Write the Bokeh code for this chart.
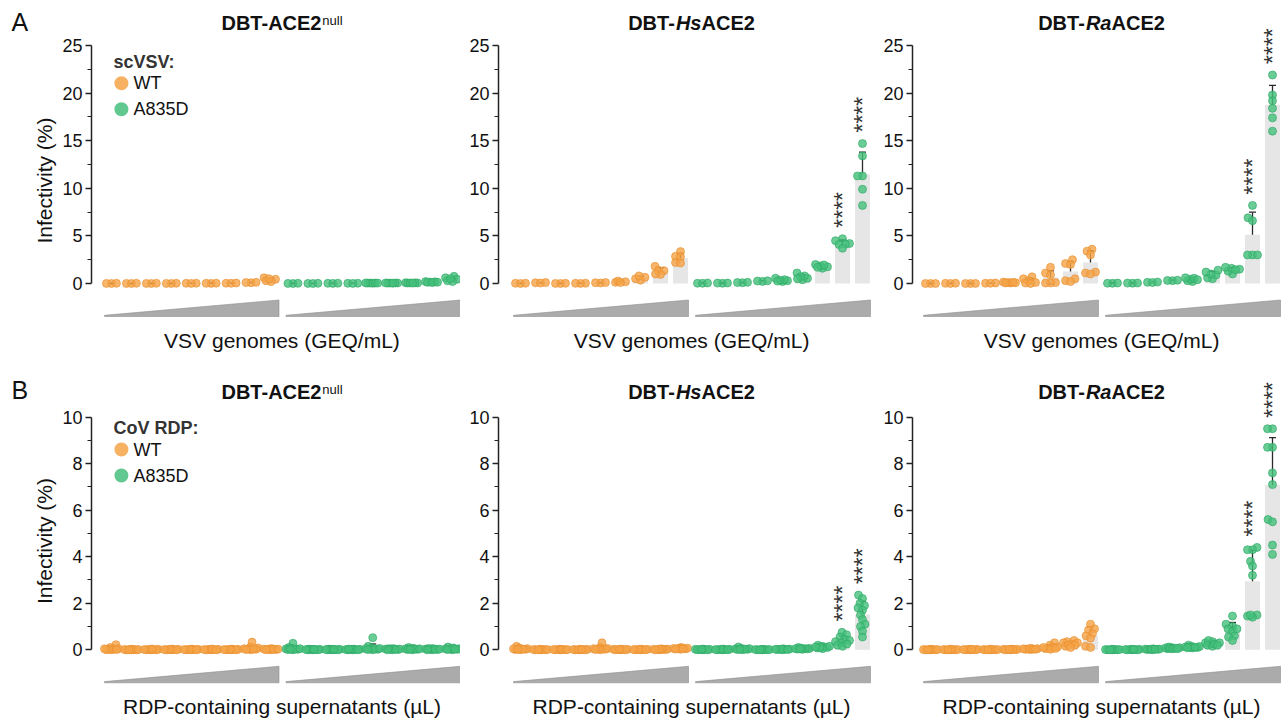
import math
import numpy as np
from bokeh.plotting import figure
from bokeh.layouts import column, row
from bokeh.models import ColumnDataSource, Whisker, TeeHead, Label, FixedTicker, Range1d
from bokeh.core.properties import value
from bokeh.embed import file_html
from bokeh.resources import INLINE

# ------------------------------------------------------------------ data
strains = ["WT", "A835D"]                 # scVSV / CoV RDP spike variants
dose_levels = ["1", "2", "3", "4", "5", "6", "7", "8", "9"]   # increasing input (wedge)
vsv_yticks = [0, 5, 10, 15, 20, 25]
rdp_yticks = [0, 2, 4, 6, 8, 10]

# Panel A : scVSV, infectivity (%)
vsv_null_wt = [
    [0.0, 0.02, 0.01], [0.01, 0.0, 0.02], [0.0, 0.01, 0.02], [0.02, 0.0, 0.01],
    [0.02, 0.03, 0.01], [0.01, 0.03, 0.02], [0.03, 0.02, 0.05], [0.08, 0.12, 0.1],
    [0.6, 0.45, 0.3, 0.2, 0.5],
]
vsv_null_a835d = [
    [0.0, 0.01, 0.02], [0.01, 0.0, 0.02], [0.02, 0.01, 0.03], [0.02, 0.03, 0.01],
    [0.04, 0.05, 0.06, 0.03, 0.05, 0.04], [0.05, 0.04, 0.06, 0.05, 0.03, 0.06],
    [0.06, 0.08, 0.05, 0.07, 0.06, 0.04], [0.15, 0.2, 0.12, 0.18, 0.1, 0.14],
    [0.75, 0.6, 0.45, 0.2, 0.3, 0.5],
]
vsv_hs_wt = [
    [0.02, 0.0, 0.03], [0.08, 0.05, 0.1], [0.0, 0.02, 0.01], [0.03, 0.01, 0.02],
    [0.05, 0.08, 0.1], [0.12, 0.18, 0.25, 0.1], [0.35, 0.5, 0.65, 0.8],
    [1.8, 1.4, 1.35, 0.95, 1.0], [3.35, 2.85, 2.8, 2.2, 2.15],
]
vsv_hs_a835d = [
    [0.03, 0.02, 0.05], [0.02, 0.04, 0.05], [0.08, 0.1, 0.12], [0.22, 0.25, 0.28],
    [0.2, 0.3, 0.4, 0.55, 0.35, 0.25], [0.4, 0.55, 0.8, 1.1, 0.7, 0.5],
    [1.6, 1.75, 1.85, 1.95, 2.0, 1.7], [4.7, 4.5, 4.2, 4.15, 4.1, 3.7],
    [14.7, 13.4, 11.3, 11.3, 9.9, 8.2],
]
vsv_ra_wt = [
    [0.0, 0.0, 0.0], [0.02, 0.0, 0.03], [0.0, 0.01, 0.0], [0.03, 0.05, 0.02],
    [0.05, 0.1, 0.15, 0.08, 0.12, 0.06], [0.7, 0.5, 0.3, 0.1, 0.05, 0.0],
    [1.7, 1.1, 0.9, 0.1, 0.05, 0.05], [2.5, 2.1, 2.0, 0.5, 0.3, 0.2],
    [3.6, 3.4, 3.0, 1.2, 1.1, 1.0],
]
vsv_ra_a835d = [
    [0.02, 0.03, 0.05], [0.03, 0.05, 0.04], [0.12, 0.1, 0.15], [0.3, 0.35, 0.32],
    [0.2, 0.3, 0.45, 0.55, 0.6, 0.4], [0.5, 0.6, 0.9, 1.0, 1.2, 1.4],
    [1.0, 1.3, 1.5, 1.6, 1.7, 1.45], [8.2, 6.9, 6.6, 3.0, 3.0, 3.0],
    [21.9, 19.8, 19.2, 18.4, 17.4, 16.0],
]

# Panel B : CoV RDP, infectivity (%)
rdp_null_wt = [
    [0.22, 0.1, 0.05, 0.03, 0.0, 0.02, 0.0, 0.01, 0.04],
    [0.0, 0.01, 0.02, 0.0, 0.01, 0.0, 0.02, 0.01, 0.0],
    [0.01, 0.0, 0.02, 0.01, 0.0, 0.02, 0.0, 0.01, 0.03],
    [0.0, 0.02, 0.01, 0.0, 0.03, 0.01, 0.0, 0.02, 0.01],
    [0.02, 0.0, 0.01, 0.03, 0.0, 0.01, 0.02, 0.0, 0.01],
    [0.01, 0.02, 0.0, 0.01, 0.02, 0.0, 0.03, 0.01, 0.0],
    [0.0, 0.01, 0.03, 0.02, 0.0, 0.01, 0.0, 0.02, 0.01],
    [0.33, 0.12, 0.08, 0.05, 0.02, 0.0, 0.03, 0.01, 0.04],
    [0.05, 0.03, 0.02, 0.0, 0.01, 0.04, 0.02, 0.0, 0.03],
]
rdp_null_a835d = [
    [0.28, 0.1, 0.06, 0.04, 0.02, 0.0, 0.03, 0.01, 0.05, 0.02],
    [0.02, 0.0, 0.01, 0.03, 0.0, 0.02, 0.01, 0.0, 0.02, 0.01],
    [0.01, 0.02, 0.0, 0.03, 0.01, 0.0, 0.02, 0.01, 0.0, 0.02],
    [0.0, 0.02, 0.01, 0.03, 0.0, 0.01, 0.02, 0.0, 0.01, 0.03],
    [0.52, 0.15, 0.08, 0.05, 0.03, 0.02, 0.0, 0.04, 0.01, 0.06],
    [0.03, 0.05, 0.02, 0.0, 0.04, 0.01, 0.03, 0.02, 0.05, 0.0],
    [0.1, 0.06, 0.04, 0.02, 0.05, 0.0, 0.03, 0.01, 0.02, 0.04],
    [0.05, 0.03, 0.0, 0.02, 0.04, 0.01, 0.06, 0.02, 0.03, 0.0],
    [0.12, 0.08, 0.05, 0.03, 0.0, 0.02, 0.06, 0.04, 0.01, 0.03],
]
rdp_hs_wt = [
    [0.15, 0.08, 0.05, 0.02, 0.0, 0.03, 0.01, 0.04, 0.02],
    [0.0, 0.01, 0.02, 0.0, 0.01, 0.02, 0.0, 0.01, 0.0],
    [0.01, 0.0, 0.02, 0.01, 0.0, 0.01, 0.02, 0.0, 0.01],
    [0.0, 0.02, 0.0, 0.01, 0.02, 0.0, 0.01, 0.0, 0.02],
    [0.3, 0.1, 0.06, 0.04, 0.02, 0.0, 0.03, 0.05, 0.01],
    [0.02, 0.0, 0.01, 0.03, 0.0, 0.02, 0.01, 0.0, 0.02],
    [0.01, 0.02, 0.0, 0.01, 0.03, 0.0, 0.02, 0.01, 0.0],
    [0.03, 0.01, 0.02, 0.0, 0.04, 0.02, 0.01, 0.03, 0.0],
    [0.1, 0.08, 0.06, 0.04, 0.05, 0.02, 0.07, 0.03, 0.05],
]
rdp_hs_a835d = [
    [0.02, 0.0, 0.01, 0.03, 0.0, 0.02, 0.01, 0.0, 0.02],
    [0.01, 0.02, 0.0, 0.01, 0.03, 0.0, 0.02, 0.01, 0.0],
    [0.12, 0.06, 0.04, 0.02, 0.05, 0.0, 0.03, 0.01, 0.02],
    [0.0, 0.01, 0.02, 0.0, 0.01, 0.02, 0.0, 0.01, 0.0],
    [0.03, 0.01, 0.02, 0.04, 0.0, 0.02, 0.03, 0.01, 0.02],
    [0.1, 0.06, 0.04, 0.05, 0.02, 0.07, 0.03, 0.05, 0.04],
    [0.2, 0.15, 0.12, 0.1, 0.08, 0.15, 0.05, 0.1, 0.12],
    [0.75, 0.65, 0.55, 0.45, 0.4, 0.35, 0.3, 0.2, 0.15, 0.25],
    [2.35, 2.2, 2.0, 1.9, 1.8, 1.7, 1.5, 1.3, 1.1, 1.0, 0.8, 0.55],
]
rdp_ra_wt = [
    [0.01, 0.0, 0.02, 0.0, 0.01, 0.02, 0.0, 0.01, 0.0],
    [0.0, 0.01, 0.0, 0.02, 0.01, 0.0, 0.01, 0.02, 0.0],
    [0.02, 0.0, 0.01, 0.0, 0.02, 0.01, 0.0, 0.01, 0.02],
    [0.0, 0.01, 0.02, 0.01, 0.0, 0.0, 0.02, 0.01, 0.0],
    [0.02, 0.01, 0.0, 0.03, 0.01, 0.02, 0.0, 0.01, 0.02],
    [0.05, 0.03, 0.06, 0.02, 0.04, 0.01, 0.05, 0.03, 0.02],
    [0.3, 0.2, 0.12, 0.1, 0.08, 0.05, 0.02, 0.1, 0.06],
    [0.4, 0.35, 0.3, 0.3, 0.25, 0.2, 0.15, 0.2, 0.1],
    [1.1, 0.9, 0.85, 0.7, 0.6, 0.5, 0.15, 0.1],
]
rdp_ra_a835d = [
    [0.01, 0.0, 0.02, 0.0, 0.01, 0.02, 0.0, 0.01, 0.0],
    [0.02, 0.01, 0.0, 0.01, 0.02, 0.0, 0.01, 0.0, 0.02],
    [0.03, 0.02, 0.04, 0.01, 0.03, 0.02, 0.0, 0.03, 0.02],
    [0.05, 0.08, 0.1, 0.12, 0.06, 0.04, 0.09, 0.07, 0.05],
    [0.1, 0.15, 0.2, 0.12, 0.08, 0.1, 0.14, 0.09, 0.11],
    [0.25, 0.3, 0.35, 0.4, 0.2, 0.15, 0.25, 0.3, 0.2],
    [1.45, 1.1, 1.0, 0.9, 0.8, 0.6, 0.55, 0.4, 0.9],
    [4.4, 4.3, 4.3, 3.8, 3.6, 3.2, 1.5, 1.45, 1.4, 1.5],
    [9.5, 9.5, 8.7, 8.7, 7.6, 7.1, 5.6, 5.5, 4.5, 4.1],
]

# significance vs WT (A835D series), per dose level
sig_null = ["", "", "", "", "", "", "", "", ""]
sig_hs = ["", "", "", "", "", "", "", "****", "****"]
sig_ra = ["", "", "", "", "", "", "", "****", "****"]

cell_lines = ["null", "Hs", "Ra"]
panel_letters = ["A", "B"]
legend_titles = ["scVSV:", "CoV RDP:"]
vsv_xlabel = "VSV genomes (GEQ/mL)"
rdp_xlabel = "RDP-containing supernatants (\u00b5L)"
y_label = "Infectivity (%)"

# ------------------------------------------------------------------ style / layout
FONT = "Liberation Sans"
ORANGE_FILL, ORANGE_LINE = "#F5A447", "#E88E2C"
GREEN_FILL, GREEN_LINE = "#45C07C", "#2CA865"
BAR_COLOR = "#E6E6E6"
WEDGE_FILL, WEDGE_LINE = "#ABABAB", "#8E8E8E"
PX_X = 20.0                   # px per x unit
MUT_OFFSET = 9.1
STRIP_W = 30
# per column: left border (px), x start, frame width (px)
COLS = [dict(border=60, x0=-1.0, frame=370),
        dict(border=38, x0=-1.1, frame=378),
        dict(border=36, x0=-0.9, frame=376)]
# per row: page px of y=0, px per unit, frame top/bottom, text centre lines (page px)
ROWS = [
    dict(zero=283.0, ppu=9.52, top=0.0, bottom=360.0, title=22.5, sup=20.0, xlab=340.0,
         hdr=61.0, c1=82.7, c2=108.7, letter=21.5),
    dict(zero=649.3, ppu=23.27, top=360.0, bottom=721.0, title=391.0, sup=388.5,
         xlab=706.0, hdr=427.5, c1=449.0, c2=475.0, letter=389.0),
]

ARIAL_BOLD = {'D': 722, 'B': 722, 'T': 611, '-': 333, 'A': 722, 'C': 722, 'E': 667,
              '2': 556, 'H': 722, 's': 556, 'R': 722, 'a': 556}
ARIAL_REG = {'n': 556, 'u': 556, 'l': 222}


def text_w(s, size, bold):
    table = ARIAL_BOLD if bold else ARIAL_REG
    return sum(table[c] for c in s) * size / 1000.0


def swarm(vals, ppu, D=5.0, maxoff=7.0):
    order = sorted(range(len(vals)), key=lambda i: vals[i])
    cands = sorted([k * 0.5 for k in range(int(-2 * maxoff), int(2 * maxoff) + 1)], key=abs)
    placed, offs = [], [0.0] * len(vals)
    for i in order:
        yp = vals[i] * ppu
        best, bestd = 0.0, -1.0
        for c in cands:
            d = min((math.hypot(c - px, yp - py) for px, py in placed), default=1e9)
            if d >= D:
                best = c
                break
            if d > bestd + 1e-9:
                bestd, best = d, c
        placed.append((best, yp))
        offs[i] = best / PX_X
    return offs


def make_panel(ri, ci, wt, mut, sig, title_parts, xlabel, yticks, legend_title=None):
    r = ROWS[ri]
    c = COLS[ci]
    ppu = r["ppu"]
    x0 = c["x0"]
    x1 = x0 + c["frame"] / PX_X

    def Y(py):
        return (r["zero"] - py) / ppu

    def X(dpx):  # px offset from the y axis
        return x0 + dpx / PX_X

    p = figure(width=c["border"] + c["frame"], height=int(r["bottom"] - r["top"]),
               x_range=(x0, x1), y_range=(Y(r["bottom"]), Y(r["top"])),
               x_axis_location=None, toolbar_location=None, output_backend="svg",
               min_border_left=c["border"], min_border_right=0, min_border_top=0,
               min_border_bottom=0)
    p.outline_line_color = None
    p.grid.visible = False
    p.background_fill_color = "white"
    p.border_fill_color = "white"

    ax = p.yaxis[0]
    step = yticks[1] - yticks[0]
    ax.ticker = FixedTicker(ticks=yticks, minor_ticks=[t + step / 2 for t in yticks[:-1]])
    ax.bounds = (yticks[0], yticks[-1])
    ax.axis_line_color = "#222222"
    ax.axis_line_width = 1.5
    ax.major_tick_line_color = "#222222"
    ax.major_tick_line_width = 1.5
    ax.minor_tick_line_color = "#222222"
    ax.minor_tick_line_width = 1.2
    ax.major_tick_in = 0
    ax.major_tick_out = 6
    ax.minor_tick_in = 0
    ax.minor_tick_out = 4
    ax.major_label_standoff = 3
    ax.major_label_text_font = FONT
    ax.major_label_text_font_size = "18px"
    ax.major_label_text_color = "#111111"
    if ci == 0:
        ax.axis_label = y_label
        ax.axis_label_text_font = FONT
        ax.axis_label_text_font_size = "21px"
        ax.axis_label_text_font_style = "normal"
        ax.axis_label_text_color = "#111111"
        ax.axis_label_standoff = 3

    series = [(wt, 0.0, ORANGE_FILL, ORANGE_LINE, None),
              (mut, MUT_OFFSET, GREEN_FILL, GREEN_LINE, sig)]
    for groups, off, fc, lc, sg in series:
        centers = [i + off for i in range(len(groups))]
        means = [float(np.mean(g)) for g in groups]
        sds = [float(np.std(g, ddof=1)) for g in groups]
        p.vbar(x=centers, top=means, width=0.75, bottom=0,
               fill_color=BAR_COLOR, line_color=None)
        xs, ys = [], []
        for cx, g in zip(centers, groups):
            for o, v in zip(swarm(g, ppu), g):
                xs.append(cx + o)
                ys.append(v)
        p.scatter(x=xs, y=ys, size=8, marker="circle", fill_color=fc, fill_alpha=0.8,
                  line_color=lc, line_alpha=0.9, line_width=0.7)
        src = ColumnDataSource(dict(base=centers,
                                    upper=[m + s for m, s in zip(means, sds)],
                                    lower=[m - s for m, s in zip(means, sds)]))
        w = Whisker(base="base", upper="upper", lower="lower", source=src,
                    dimension="height", line_color="#2A2A2A", line_width=1.3,
                    upper_head=TeeHead(size=7, line_color="#2A2A2A", line_width=1.3),
                    lower_head=TeeHead(size=7, line_color="#2A2A2A", line_width=1.3))
        p.add_layout(w)
        if sg:
            sx, sy, st = [], [], []
            for cx, g, s in zip(centers, groups, sg):
                if s:
                    sx.append(cx)
                    sy.append(max(g) + 11.0 / ppu)
                    st.append(s)
            if sx:
                p.text(x=sx, y=sy, text=st, angle=math.pi / 2, text_align="left",
                       text_baseline="middle", text_font=value(FONT),
                       text_font_size="23px", text_color="#333333")
        # wedge (increasing dose)
        xl, xr = centers[0] - 0.35, centers[-1] + 0.4
        yb, yt = -33.0 / ppu, -16.5 / ppu
        p.patch(x=[xl, xr, xr, xl], y=[yb, yb, yt, yb + 1.2 / ppu],
                fill_color=WEDGE_FILL, line_color=WEDGE_LINE, line_width=0.6)

    # title composed of pieces
    mid = (0 + (len(mut) - 1 + MUT_OFFSET)) / 2.0
    widths = [text_w(t, sz, "bold" in st) for t, st, sz, is_sup in title_parts]
    left = mid * PX_X - sum(widths) / 2.0
    cum = 0.0
    for (t, st, sz, is_sup), wpx in zip(title_parts, widths):
        p.add_layout(Label(x=(left + cum) / PX_X, y=Y(r["sup"] if is_sup else r["title"]),
                           text=t, text_font=FONT, text_font_size=f"{sz}px",
                           text_font_style=st, text_color="#111111",
                           text_align="left", text_baseline="middle"))
        cum += wpx

    # x-axis label
    p.add_layout(Label(x=mid, y=Y(r["xlab"]), text=xlabel, text_font=FONT,
                       text_font_size="21px", text_color="#111111",
                       text_align="center", text_baseline="middle"))

    if legend_title is not None:
        p.add_layout(Label(x=X(22), y=Y(r["hdr"]), text=legend_title, text_font=FONT,
                           text_font_size="18px", text_font_style="bold",
                           text_color="#333333", text_align="left",
                           text_baseline="middle"))
        p.scatter(x=[X(30), X(30)], y=[Y(r["c1"]), Y(r["c2"])], size=14, marker="circle",
                  fill_color=[ORANGE_FILL, GREEN_FILL], fill_alpha=0.85, line_color=None)
        for cy, name in zip([r["c1"], r["c2"]], strains):
            p.add_layout(Label(x=X(42), y=Y(cy), text=name, text_font=FONT,
                               text_font_size="18px", text_color="#111111",
                               text_align="left", text_baseline="middle"))
    return p


def title_for(line):
    if line == "null":
        return [("DBT-ACE2", "bold", 20, False), ("null", "normal", 13, True)]
    return [("DBT-", "bold", 20, False), (line, "bold italic", 20, False),
            ("ACE2", "bold", 20, False)]


vsv_data = [(vsv_null_wt, vsv_null_a835d, sig_null), (vsv_hs_wt, vsv_hs_a835d, sig_hs),
            (vsv_ra_wt, vsv_ra_a835d, sig_ra)]
rdp_data = [(rdp_null_wt, rdp_null_a835d, sig_null), (rdp_hs_wt, rdp_hs_a835d, sig_hs),
            (rdp_ra_wt, rdp_ra_a835d, sig_ra)]

row_a, row_b = [], []
for ci, line in enumerate(cell_lines):
    wt, mut, sg = vsv_data[ci]
    row_a.append(make_panel(0, ci, wt, mut, sg, title_for(line), vsv_xlabel, vsv_yticks,
                            legend_title=legend_titles[0] if ci == 0 else None))
    wt, mut, sg = rdp_data[ci]
    row_b.append(make_panel(1, ci, wt, mut, sg, title_for(line), rdp_xlabel, rdp_yticks,
                            legend_title=legend_titles[1] if ci == 0 else None))

# narrow strip holding the panel letters
total_h = int(ROWS[1]["bottom"])
strip = figure(width=STRIP_W, height=total_h, x_range=(0, STRIP_W),
               y_range=Range1d(start=total_h, end=0),
               x_axis_location=None, y_axis_location=None, toolbar_location=None,
               output_backend="svg", min_border=0)
strip.outline_line_color = None
strip.grid.visible = False
strip.text(x=[11, 11], y=[ROWS[0]["letter"], ROWS[1]["letter"]], text=panel_letters,
           text_font=value(FONT), text_font_size="25px", text_color="#111111",
           text_align="left", text_baseline="middle")

layout = row(strip, column(row(*row_a), row(*row_b)))
open("out.html", "w").write(file_html(layout, INLINE))
